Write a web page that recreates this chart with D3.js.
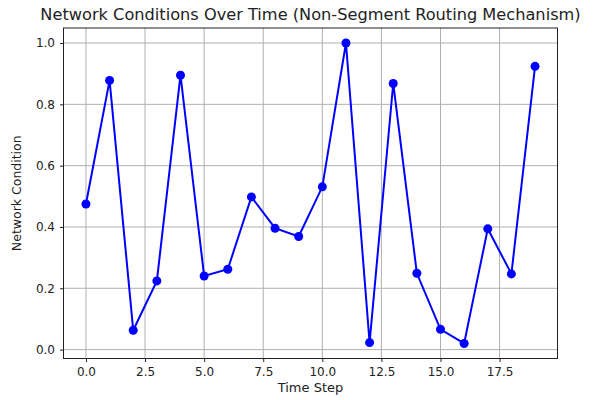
<!DOCTYPE html>
<html>
<head>
<meta charset="utf-8">
<script src="https://cdn.jsdelivr.net/npm/d3@7"></script>
<style>
  body { margin: 0; background: #fff; }
  text { font-family: "DejaVu Sans", sans-serif; fill: #222; }
</style>
</head>
<body>
<div id="chart"></div>
<script>
const steps = d3.range(20);
const conditions = [0.475, 0.878, 0.063, 0.224, 0.895, 0.240, 0.262, 0.498, 0.396, 0.369,
  0.531, 1.0, 0.023, 0.868, 0.249, 0.066, 0.020, 0.394, 0.247, 0.924];
const xTicks = [0, 2.5, 5, 7.5, 10, 12.5, 15, 17.5];
const yTicks = [0, 0.2, 0.4, 0.6, 0.8, 1.0];

const width = 595, height = 400;
const margin = { top: 28, right: 37.5, bottom: 41.5, left: 63.5 };

const svg = d3.select('#chart').append('svg').attr('width', width).attr('height', height);

const x = d3.scaleLinear().domain([-0.95, 19.95]).range([margin.left, width - margin.right]);
const y = d3.scaleLinear().domain([-0.029, 1.049]).range([height - margin.bottom, margin.top]);

// grid
svg.append('g').selectAll('line').data(xTicks).join('line')
  .attr('x1', d => x(d)).attr('x2', d => x(d))
  .attr('y1', margin.top).attr('y2', height - margin.bottom)
  .attr('stroke', '#b0b0b0').attr('stroke-width', 1);
svg.append('g').selectAll('line').data(yTicks).join('line')
  .attr('y1', d => y(d)).attr('y2', d => y(d))
  .attr('x1', margin.left).attr('x2', width - margin.right)
  .attr('stroke', '#b0b0b0').attr('stroke-width', 1);

// axes
const xAxis = svg.append('g')
  .attr('transform', `translate(0,${height - margin.bottom})`)
  .call(d3.axisBottom(x).tickValues(xTicks).tickFormat(d3.format('.1f')).tickSizeOuter(0).tickSize(3.5).tickPadding(5));
const yAxis = svg.append('g')
  .attr('transform', `translate(${margin.left},0)`)
  .call(d3.axisLeft(y).tickValues(yTicks).tickFormat(d3.format('.1f')).tickSizeOuter(0).tickSize(3.5).tickPadding(5));
[xAxis, yAxis].forEach(a => {
  a.select('.domain').remove();
  a.selectAll('text').style('font-size', '12px').style('font-family', '"DejaVu Sans", sans-serif').attr('fill', '#222');
  a.selectAll('line').attr('stroke', '#222');
});

// frame
svg.append('rect')
  .attr('x', margin.left).attr('y', margin.top)
  .attr('width', width - margin.left - margin.right)
  .attr('height', height - margin.top - margin.bottom)
  .attr('fill', 'none').attr('stroke', '#222').attr('stroke-width', 1);

// line + markers
const line = d3.line().x((d, i) => x(steps[i])).y(d => y(d));
svg.append('path').datum(conditions)
  .attr('d', line).attr('fill', 'none').attr('stroke', '#0000ff').attr('stroke-width', 2);
svg.append('g').selectAll('circle').data(conditions).join('circle')
  .attr('cx', (d, i) => x(steps[i])).attr('cy', d => y(d))
  .attr('r', 4.5).attr('fill', '#0000ff');

// labels
svg.append('text')
  .attr('x', (margin.left + width - margin.right) / 2).attr('y', 20)
  .attr('text-anchor', 'middle').style('font-size', '16.2px')
  .text('Network Conditions Over Time (Non-Segment Routing Mechanism)');
svg.append('text')
  .attr('x', (margin.left + width - margin.right) / 2).attr('y', 392)
  .attr('text-anchor', 'middle').style('font-size', '13px')
  .text('Time Step');
svg.append('text')
  .attr('transform', `translate(21,${(margin.top + height - margin.bottom) / 2}) rotate(-90)`)
  .attr('text-anchor', 'middle').style('font-size', '12.5px')
  .text('Network Condition');
</script>
</body>
</html>
